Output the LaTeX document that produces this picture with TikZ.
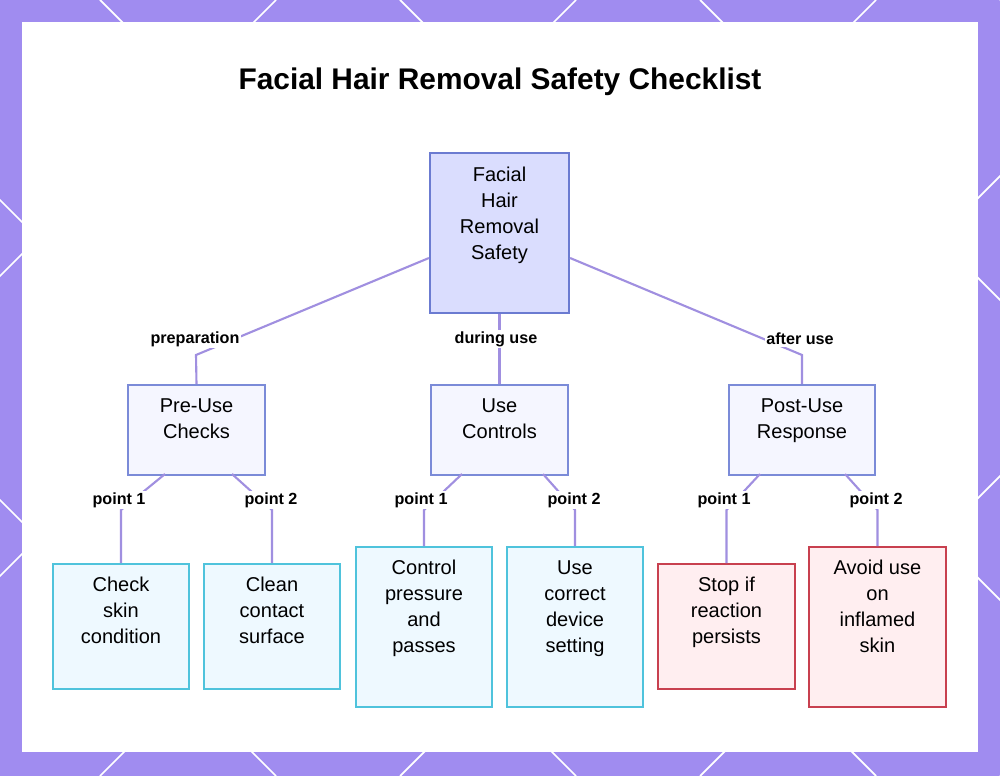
\documentclass[tikz,border=0pt]{standalone}
\usepackage{fontspec}
\setmainfont{Liberation Sans}
\usetikzlibrary{calc}
\definecolor{frame}{HTML}{A08CF0}
\definecolor{edge}{HTML}{A08FE0}
\definecolor{rootfill}{HTML}{DADDFE}
\definecolor{rootline}{HTML}{6B7BD1}
\definecolor{midfill}{HTML}{F5F6FF}
\definecolor{midline}{HTML}{7B8BD8}
\definecolor{cyanfill}{HTML}{EEF9FF}
\definecolor{cyanline}{HTML}{4FC3DC}
\definecolor{redfill}{HTML}{FFEEF0}
\definecolor{redline}{HTML}{C8404F}
\tikzset{
  box/.style={draw, line width=1.2pt, align=center, font=\fontsize{11.4}{14.8}\selectfont, inner sep=0pt},
  root/.style={box, fill=rootfill, draw=rootline, minimum width=139*0.02cm, text height=106*0.569pt, text depth=54*0.569pt},
  mid/.style={box, fill=midfill, draw=midline, minimum width=137*0.02cm, text height=53*0.569pt, text depth=37*0.569pt},
  leaf/.style={box, fill=cyanfill, draw=cyanline, minimum width=136*0.02cm},
  warn/.style={box, fill=redfill, draw=redline, minimum width=137*0.02cm},
  short/.style={text height=79*0.569pt, text depth=46*0.569pt},
  tall/.style={text height=105*0.569pt, text depth=55*0.569pt},
  link/.style={edge, line width=1.2pt},
  lbl/.style={font=\bfseries\fontsize{9.2}{10}\selectfont, fill=white, inner sep=1pt}
}
\begin{document}
\begin{tikzpicture}[x=0.02cm,y=-0.02cm]
    \useasboundingbox (0,0) rectangle (1000,776);
    \fill[frame] (0,0) rectangle (1000,776);
    \foreach \s in {-800,-500,-200,100,400,700,1000} {
      \draw[white, line width=1pt] (\s,0) -- ++(776,776);
      \draw[white, line width=1pt] (\s+776,0) -- ++(-776,776);
    }
    \fill[white] (22,22) rectangle (978,752);
    \node[font=\bfseries\fontsize{17}{20}\selectfont] (title) at (500,82) {Facial Hair Removal Safety Checklist};

    % tree
    \node[root, anchor=north] (safety) at (499.5,152) {Facial\\Hair\\Removal\\Safety};
    \node[mid, anchor=north] (pre) at (196.5,384) {Pre-Use\\Checks};
    \node[mid, anchor=north] (use) at (499.5,384) {Use\\Controls};
    \node[mid, anchor=north, minimum width=146*0.02cm] (post) at (802,384) {Post-Use\\Response};

    \node[leaf, short, anchor=north] (skin) at (121,563) {Check\\skin\\condition};
    \node[leaf, short, anchor=north] (surface) at (272,563) {Clean\\contact\\surface};
    \node[leaf, tall, anchor=north] (pressure) at (424,546) {Control\\pressure\\and\\passes};
    \node[leaf, tall, anchor=north] (setting) at (575,546) {Use\\correct\\device\\setting};
    \node[warn, short, anchor=north] (stop) at (726.5,563) {Stop if\\reaction\\persists};
    \node[warn, tall, anchor=north] (avoid) at (877.5,546) {Avoid use\\on\\inflamed\\skin};

    % connectors
    \draw[link] (safety.west |- 0,258) -- (196,355) -- (pre.north);
    \draw[link] (safety.south) -- (use.north);
    \draw[link] (safety.east |- 0,258) -- (802,355) -- (post.north);
    \node[lbl] at (195,339) {preparation};
    \node[lbl] at (496,339) {during use};
    \node[lbl] at (800,339) {after use};

    \draw[link] (165,474) -- (121,510) -- (skin.north);
    \draw[link] (232,474) -- (272,510) -- (surface.north);
    \draw[link] (462,474) -- (424,510) -- (pressure.north);
    \draw[link] (543,474) -- (575,510) -- (setting.north);
    \draw[link] (760,474) -- (726.5,510) -- (stop.north);
    \draw[link] (845,474) -- (877.5,510) -- (avoid.north);
    \foreach \x/\t in {119/point 1,271/point 2,421/point 1,574/point 2,724/point 1,876/point 2}
      \node[lbl] at (\x,500) {\t};
\end{tikzpicture}
\end{document}
